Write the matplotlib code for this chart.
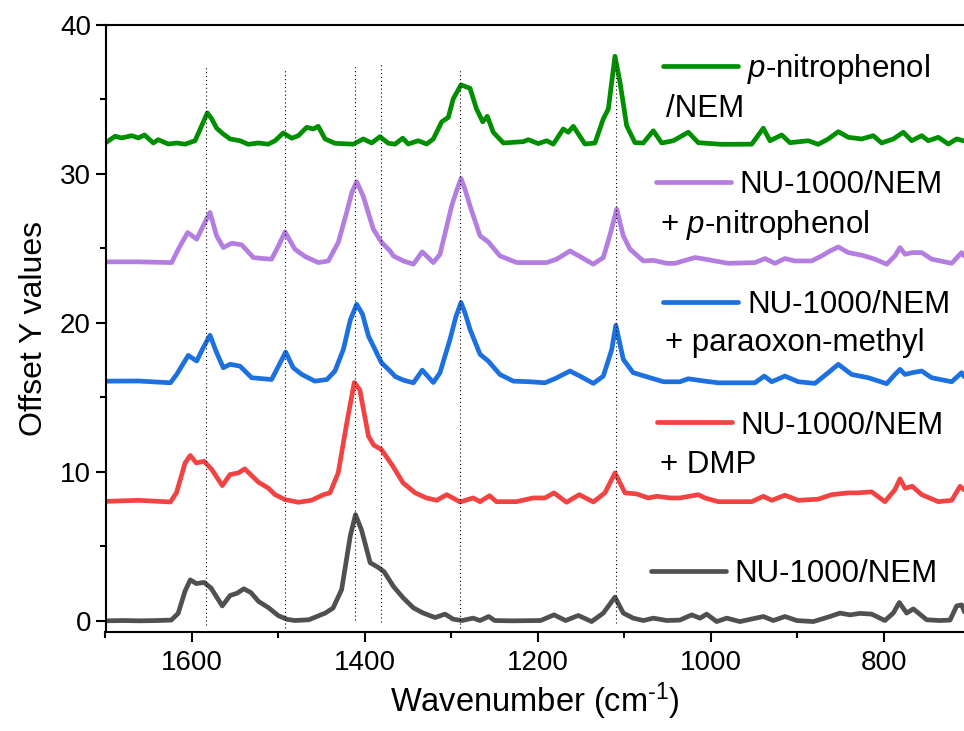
import matplotlib
matplotlib.use('Agg')

import matplotlib.pyplot as plt
from matplotlib.ticker import MultipleLocator

plt.rcParams['font.family'] = ['Liberation Sans', 'DejaVu Sans']
plt.rcParams['mathtext.fontset'] = 'custom'
plt.rcParams['mathtext.rm'] = 'Liberation Sans'
plt.rcParams['mathtext.it'] = 'Liberation Sans:italic'

# ---- spectra (wavenumber, absorbance before offset) ----
nem_wn = [1700, 1680, 1660, 1640, 1624, 1616, 1608, 1602, 1595, 1586, 1578, 1565,
          1556, 1548, 1540, 1532, 1523, 1512, 1500, 1490, 1481, 1465, 1446, 1437,
          1427, 1417, 1411, 1404, 1394, 1385, 1378, 1367, 1356, 1344, 1333, 1319,
          1307.5, 1298, 1288, 1275, 1267, 1257, 1250, 1230, 1197, 1181.5, 1168,
          1153.4, 1138, 1124.5, 1111, 1101.4, 1090, 1078, 1066.7, 1051, 1036,
          1022.3, 1012.7, 1005, 993.4, 981.8, 966.5, 939.5, 927.9, 914.5, 900.9,
          881.7, 862.4, 850.9, 839.3, 827.8, 814.3, 798.9, 789.3, 782.3, 773.8,
          766.1, 750.6, 735.3, 723.6, 716, 710.2, 707]
nem_ab = [0.0, 0.02, 0.0, 0.02, 0.05, 0.5, 2.0, 2.75, 2.5, 2.58, 2.2, 1.0,
          1.7, 1.85, 2.15, 1.9, 1.3, 0.9, 0.34, 0.1, 0.02, 0.07, 0.52, 0.85,
          2.1, 5.7, 7.13, 6.1, 3.9, 3.6, 3.3, 2.3, 1.55, 0.87, 0.53, 0.22,
          0.45, 0.11, 0.02, 0.18, 0.02, 0.29, 0.02, 0.0, 0.02, 0.4, 0.02,
          0.36, -0.05, 0.52, 1.59, 0.52, 0.18, 0.02, 0.18, 0.02, 0.05,
          0.4, 0.18, 0.45, -0.05, 0.18, -0.05, 0.29, 0.02, 0.29, 0.02,
          -0.05, 0.29, 0.52, 0.4, 0.5, 0.45, 0.02, 0.52, 1.23, 0.52,
          0.8, 0.07, 0.02, 0.05, 1.0, 1.07, 0.6]

dmp_wn = [1700, 1662, 1625, 1618, 1608, 1602, 1595, 1586, 1577, 1565, 1556, 1546.5,
          1539, 1523, 1512, 1504, 1492.5, 1477, 1462, 1448, 1440.5, 1431, 1421,
          1412.4, 1406, 1396, 1390, 1381, 1368, 1356, 1342, 1329, 1317, 1305.6,
          1290, 1275, 1267, 1256, 1248, 1225, 1205.5, 1192, 1181.5, 1167, 1152.3,
          1136, 1122.6, 1111, 1099.4, 1086, 1072.5, 1062.8, 1047, 1036, 1014.7,
          1007, 991.6, 952.9, 939.5, 929.8, 914.5, 899.1, 876, 860.5, 841.3,
          829.7, 814.3, 798.9, 787.3, 781.5, 775.7, 767.3, 756.4, 737.2, 721.7,
          712.1, 707.5]
dmp_ab = [0.02, 0.09, -0.02, 0.59, 2.6, 3.1, 2.6, 2.71, 2.15, 1.08, 1.82, 1.93,
          2.2, 1.3, 0.92, 0.47, 0.14, -0.04, 0.09, 0.47, 0.59, 1.93, 5.3,
          8.0, 7.5, 4.4, 3.8, 3.5, 2.4, 1.26, 0.59, 0.25, 0.09, 0.47,
          -0.02, 0.25, 0.0, 0.4, 0.0, 0.0, 0.25, 0.25, 0.59, -0.04, 0.47,
          -0.02, 0.59, 1.93, 0.59, 0.52, 0.25, 0.36, 0.25, 0.25, 0.47,
          0.25, 0.0, 0.0, 0.36, 0.09, 0.43, 0.09, 0.17, 0.47, 0.59,
          0.59, 0.66, 0.0, 0.81, 1.53, 0.9, 1.03, 0.47, 0.0, 0.09,
          1.03, 0.8]

pom_wn = [1700, 1662, 1625, 1617.7, 1604.3, 1594.6, 1587, 1579.2, 1571.5, 1563.8,
          1556, 1544.5, 1531, 1519.4, 1508, 1500, 1491.7, 1483, 1473, 1458, 1444,
          1434.7, 1425, 1417, 1409.6, 1403, 1396, 1381, 1371, 1365, 1355.7, 1344,
          1333.8, 1321, 1313.3, 1301.7, 1295, 1289, 1284, 1278.6, 1267, 1257.5,
          1244, 1228.5, 1209, 1192, 1180.3, 1163, 1151.5, 1136, 1124.5, 1114.8,
          1110, 1101.4, 1090, 1070.5, 1055, 1036, 1026.2, 1007, 991.6, 949.2,
          938.4, 929.8, 914.5, 899.1, 879.8, 864.4, 852.8, 837.4, 818.2, 796.9,
          787.3, 781.5, 775.7, 767.3, 756.4, 744.9, 721.7, 710.2, 707.5]
pom_ab = [0.09, 0.1, -0.02, 0.54, 1.82, 1.44, 2.34, 3.17, 2.0, 0.99,
          1.22, 1.1, 0.32, 0.26, 0.2, 1.1, 2.04, 0.99, 0.54, 0.09, 0.2,
          0.77, 2.22, 4.2, 5.25, 4.6, 3.12, 1.33, 0.77, 0.4, 0.16, -0.02,
          0.83, 0.0, 0.66, 2.9, 4.4, 5.37, 4.6, 3.57, 1.89, 1.44,
          0.54, 0.09, 0.05, -0.02, 0.26, 0.77, 0.43, -0.06, 0.43, 2.2,
          3.84, 1.55, 0.66, 0.32, 0.05, 0.05, 0.25, 0.09, -0.02, -0.02,
          0.43, 0.05, 0.43, 0.05, -0.06, 0.66, 1.22, 0.54, 0.32, -0.08,
          0.54, 0.88, 0.54, 0.66, 0.77, 0.32, 0.05, 0.66, 0.4]

pnp_wn = [1700, 1662, 1623.5, 1615.8, 1605, 1594.6, 1587, 1579.2, 1571.5, 1563.8,
          1554, 1542.5, 1529, 1517.6, 1508, 1500, 1492.5, 1481, 1469.4, 1454,
          1442.4, 1430.9, 1421.2, 1415, 1409.6, 1402, 1390.4, 1380.7, 1371, 1367.3,
          1355.7, 1344, 1333.8, 1321, 1313.3, 1299.8, 1294, 1289, 1284, 1278.6,
          1267, 1257.5, 1244, 1224.6, 1201.5, 1190, 1178.4, 1163, 1149.5, 1136.1,
          1124.5, 1116, 1109, 1101.4, 1093.6, 1078.3, 1066.7, 1051.2, 1041.6,
          1018.5, 1007, 980, 949.2, 937.6, 926.1, 914.5, 903, 883.6, 872, 862.4,
          852.8, 841.3, 825.8, 810.4, 796.9, 787.3, 781.5, 775.7, 767.3, 756.4,
          744.9, 721.7, 710.2, 707.5]
pnp_ab = [0.1, 0.1, 0.05, 0.95, 2.07, 1.62, 2.52, 3.42, 1.84, 1.06,
          1.35, 1.24, 0.39, 0.32, 0.28, 1.17, 2.11, 0.95, 0.46, 0.05,
          0.16, 1.4, 3.42, 4.8, 5.48, 4.5, 2.3, 1.4, 0.83, 0.5,
          0.16, -0.06, 0.77, 0.05, 0.61, 3.86, 4.9, 5.7, 4.9, 3.86,
          1.84, 1.44, 0.5, 0.05, 0.05, 0.05, 0.28, 0.83, 0.39, -0.06,
          0.39, 2.07, 3.64, 1.84, 0.95, 0.16, 0.2, 0.0, 0.0,
          0.39, 0.28, 0.0, 0.05, 0.32, 0.0, 0.32, 0.16, 0.16, 0.5, 0.83,
          1.1, 0.72, 0.55, 0.28, -0.06, 0.5, 1.06, 0.61, 0.72, 0.72,
          0.28, 0.0, 0.72, 0.5]

nph_wn = [1700, 1689, 1681.3, 1669.7, 1662, 1655, 1644.7, 1639, 1627.4, 1617.7,
          1608, 1596.5, 1588.8, 1582.3, 1577.2, 1571.5, 1563.8, 1556, 1544.5, 1535,
          1523.3, 1511.8, 1504, 1494.5, 1484.7, 1477, 1467.4, 1459.8, 1454, 1446.2,
          1434.7, 1413.5, 1402, 1392.3, 1382.7, 1373, 1365.3, 1356.4, 1350, 1338.4,
          1328.7, 1321, 1311.3, 1303.7, 1298, 1289, 1278.6, 1271, 1263.9, 1258.6,
          1251.7, 1240, 1217, 1211.2, 1199.7, 1190, 1182.3, 1170.8, 1165, 1159.2,
          1145.7, 1134.1, 1124.5, 1118.7, 1111, 1105.2, 1097.5, 1087.9, 1078.3,
          1066.7, 1057, 1043.6, 1026.2, 1014.7, 987.7, 952.9, 939.5, 931.8, 918.3,
          908.7, 887.5, 876, 864.4, 852.8, 841.3, 825.8, 812.4, 802.7, 789.2,
          777.7, 768, 756.4, 748.8, 737.2, 725.6, 716, 708.4]
nph_ab = [0.08, 0.53, 0.42, 0.57, 0.42, 0.62, 0.08, 0.3, 0.01, 0.08,
          0.0, 0.23, 1.24, 2.1, 1.7, 1.07, 0.68, 0.35, 0.23, -0.01,
          0.08, 0.0, 0.23, 0.75, 0.4, 0.57, 1.13, 1.02, 1.2, 0.35,
          0.06, 0.0, 0.35, 0.08, 0.5, 0.06, 0.0, 0.4, 0.01, 0.23,
          0.01, 0.35, 1.5, 1.8, 3.04, 3.98, 3.75, 2.36, 1.5, 1.87,
          0.8, 0.08, 0.17, 0.3, 0.04, 0.23, 0.0, 1.02, 0.8, 1.2,
          0.01, 0.08, 1.7, 2.36, 5.9, 4.16, 1.24, 0.1, 0.08,
          0.9, 0.08, 0.23, 0.8, 0.1, -0.01, 0.0, 1.07, 0.23, 0.62,
          0.1, 0.23, -0.01, 0.35, 0.84, 0.46, 0.35, 0.57, 0.08, 0.35,
          0.8, 0.23, 0.57, 0.23, 0.46, 0.01, 0.35, 0.23]

offsets = [0, 8, 16, 24, 32]
colors = ['#505050', '#f24343', '#1c70e0', '#b47de0', '#008f00']
spectra = [(nem_wn, nem_ab), (dmp_wn, dmp_ab), (pom_wn, pom_ab),
           (pnp_wn, pnp_ab), (nph_wn, nph_ab)]

# guide lines at the main bands
band_pos = [1584, 1493, 1412, 1381, 1290, 1110]
band_top = [37.3, 37.0, 37.4, 37.5, 37.1, 37.6]
band_bot = [-0.27, -0.47, 0.07, -0.07, -0.47, -0.13]

fig = plt.figure(figsize=(9.64, 7.31), dpi=100)
ax = fig.add_axes([105.5 / 964, 99 / 731, 858.5 / 964, 607 / 731])

for (wn, ab), off, c in zip(spectra, offsets, colors):
    ax.plot(wn, [a + off for a in ab], color=c, lw=3.4, solid_joinstyle='round',
            solid_capstyle='round', zorder=2)

for x, y0, y1 in zip(band_pos, band_bot, band_top):
    ax.plot([x, x], [y0, y1], color='k', lw=0.8, dashes=(1, 2.5), zorder=3)

ax.set_xlim(1700, 707.5)
ax.set_ylim(-0.75, 40)
ax.xaxis.set_major_locator(MultipleLocator(200))
ax.xaxis.set_minor_locator(MultipleLocator(100))
ax.yaxis.set_major_locator(MultipleLocator(10))
ax.yaxis.set_minor_locator(MultipleLocator(5))
ax.tick_params(which='both', direction='out', width=1.5, labelsize=20)
ax.tick_params(which='major', length=7)
ax.tick_params(which='minor', length=4)
ax.tick_params(axis='x', pad=6)
for s in ['left', 'bottom', 'top']:
    ax.spines[s].set_linewidth(1.5)
ax.spines['right'].set_visible(False)

ax.set_xlabel(r'Wavenumber (cm$^{\text{-}1}$)', fontsize=23.5, labelpad=3)
ax.set_ylabel('Offset Y values', fontsize=23, labelpad=8)

# hand-placed legend, one entry per trace
fs = 22.5
entries = [
    ('#008f00', 0.6494, 0.7368, 0.9325, 0.7472, 0.9148, '$p$-nitrophenol', 0.6529, 0.849, '/NEM'),
    ('#b47de0', 0.6412, 0.7286, 0.7414, 0.7383, 0.7237, 'NU-1000/NEM', 0.6459, 0.6568, '+ $p$-nitrophenol'),
    ('#1c70e0', 0.6490, 0.7371, 0.5442, 0.7472, 0.526, 'NU-1000/NEM', 0.6517, 0.4629, '+ paraoxon-methyl'),
    ('#f24343', 0.6420, 0.7294, 0.3455, 0.7391, 0.3262, 'NU-1000/NEM', 0.6459, 0.2624, '+ DMP'),
    ('#505050', 0.6350, 0.7224, 0.1010, 0.7321, 0.0829, 'NU-1000/NEM', None, None, None),
]
for c, lx0, lx1, ly, tx, ty, t1, t2x, t2y, t2 in entries:
    ax.plot([lx0, lx1], [ly, ly], color=c, lw=3.4, solid_capstyle='round',
            transform=ax.transAxes)
    ax.text(tx, ty, t1, transform=ax.transAxes, fontsize=fs, va='baseline')
    if t2:
        ax.text(t2x, t2y, t2, transform=ax.transAxes, fontsize=fs, va='baseline')

fig.savefig('out.png', dpi=100)
plt.close(fig)
